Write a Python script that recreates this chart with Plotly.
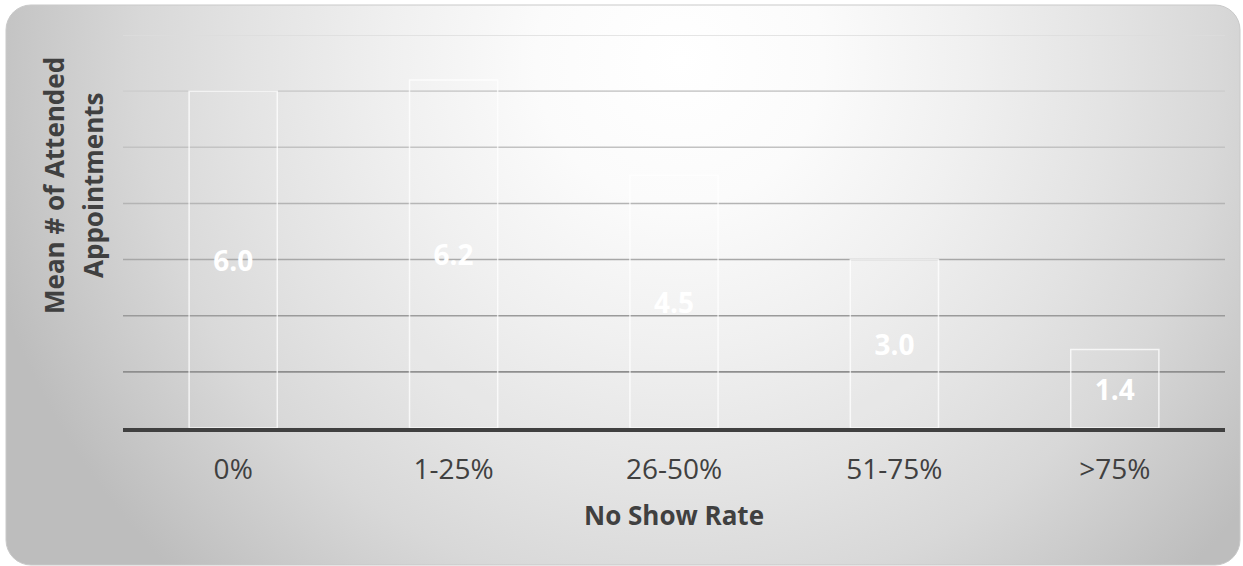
import base64
import plotly.graph_objects as go

categories = ["0%", "1-25%", "26-50%", "51-75%", ">75%"]
values = [6.0, 6.2, 4.5, 3.0, 1.4]
value_labels = ["6.0", "6.2", "4.5", "3.0", "1.4"]
grid_values = [1, 2, 3, 4, 5, 6, 7]
grid_colors = ["#8e8e8e", "#9a9a9a", "#a7a7a7", "#b4b4b4", "#c2c2c2", "#cfcfcf", "#dcdcdc"]
y_title_lines = ["Mean # of Attended", "Appointments"]

W, H = 1243, 566
ML, MR, MT, MB = 123, 18, 35, 138
PW, PH = W - ML - MR, H - MT - MB

svg = f'''<svg xmlns="http://www.w3.org/2000/svg" width="{W}" height="{H}" viewBox="0 0 {W} {H}" preserveAspectRatio="none">
<defs><radialGradient id="g" gradientUnits="userSpaceOnUse" cx="680" cy="60" r="720">
<stop offset="0" stop-color="#ffffff"/>
<stop offset="0.2" stop-color="#fbfbfb"/>
<stop offset="0.4" stop-color="#f0f0f0"/>
<stop offset="0.6" stop-color="#e3e3e3"/>
<stop offset="0.75" stop-color="#d8d8d8"/>
<stop offset="0.9" stop-color="#c8c8c8"/>
<stop offset="1" stop-color="#bdbdbd"/>
</radialGradient></defs>
<rect x="6" y="5" width="1234" height="560" rx="25" ry="25" fill="url(#g)" stroke="#c9c9c9" stroke-width="1"/>
</svg>'''
src = "data:image/svg+xml;base64," + base64.b64encode(svg.encode()).decode()

fig = go.Figure()
fig.add_trace(go.Bar(
    x=categories, y=values, width=0.4,
    marker=dict(color="rgba(255,255,255,0.04)", line=dict(color="rgba(255,255,255,0.75)", width=1.5)),
    text=value_labels, textposition="inside", insidetextanchor="middle",
    insidetextfont=dict(family="Open Sans", size=28, color="white", weight="bold"),
    textangle=0, cliponaxis=False, hoverinfo="skip",
))

shapes = []
for gv, gc in zip(grid_values, grid_colors):
    shapes.append(dict(type="line", xref="paper", yref="y", x0=0, x1=1, y0=gv, y1=gv,
                       line=dict(color=gc, width=1.6), layer="below"))

title_font = dict(family="Open Sans", size=26, color="#404040")
annotations = [
    dict(text="<b>No Show Rate</b>", xref="paper", yref="paper", x=0.5, y=-87 / PH,
         xanchor="center", yanchor="middle", showarrow=False, font=title_font),
]
for line_text, px in zip(y_title_lines, [54, 93]):
    annotations.append(dict(text=f"<b>{line_text}</b>", xref="paper", yref="paper",
                            x=(px - ML) / PW, y=(H - MB - 186) / PH,
                            xanchor="center", yanchor="middle", textangle=-90,
                            showarrow=False, font=title_font))

fig.update_layout(
    width=W, height=H,
    margin=dict(l=ML, r=MR, t=MT, b=MB, pad=0),
    paper_bgcolor="white", plot_bgcolor="rgba(0,0,0,0)",
    showlegend=False,
    shapes=shapes,
    images=[dict(source=src, xref="paper", yref="paper", x=-ML / PW, y=1 + MT / PH,
                 sizex=W / PW, sizey=H / PH, xanchor="left", yanchor="top",
                 sizing="stretch", layer="below")],
    xaxis=dict(showline=True, linecolor="#404040", linewidth=3.5, showgrid=False, ticks="",
               tickfont=dict(family="Open Sans", size=28, color="#404040"), ticklabelstandoff=14),
    yaxis=dict(range=[0, 7], showgrid=False, zeroline=False, showticklabels=False, ticks=""),
    annotations=annotations,
)

fig.write_html("out.html", config={"displayModeBar": False},
               post_script="document.body.style.margin='0';document.body.style.overflow='hidden';")
